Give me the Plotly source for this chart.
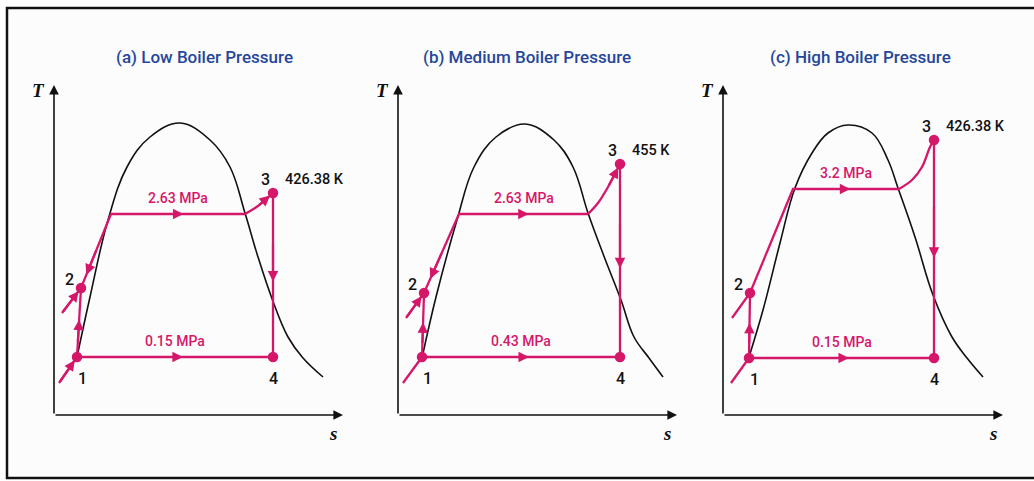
import plotly.graph_objects as go

# ---------------- data (schematic T-s values) ----------------
titles = ["(a) Low Boiler Pressure", "(b) Medium Boiler Pressure", "(c) High Boiler Pressure"]
high_p_labels = ["2.63 MPa", "2.63 MPa", "3.2 MPa"]
low_p_labels = ["0.15 MPa", "0.43 MPa", "0.15 MPa"]
t3_labels = ["426.38 K", "455 K", "426.38 K"]
state_names = ["1", "2", "3", "4"]

# saturation dome
dome_s_a = [2.3, 3.6, 5.4, 7.3, 9.6, 12.6, 15.6, 17.6, 19.1, 20.4, 21.85, 23.4, 24.9, 26.9]
dome_T_a = [5.8, 11.8, 19.5, 24.8, 27.8, 29.2, 27.5, 24.8, 20.2, 15.8, 11.5, 7.8, 5.7, 3.8]
dome_s_b = [2.4, 3.8, 5.9, 7.6, 9.8, 12.7, 15.6, 17.5, 19.0, 20.55, 22.3, 23.6, 25.1, 26.5]
dome_T_b = [5.7, 11.8, 19.5, 24.8, 27.8, 29.1, 27.5, 24.8, 20.2, 16.0, 11.5, 7.8, 5.7, 3.8]
dome_s_c = [2.6, 4.0, 5.7, 7.2, 8.9, 10.5, 12.5, 14.9, 16.5, 17.5, 19.2, 21.0, 22.9, 24.4, 26.0]
dome_T_c = [5.8, 10.5, 17.2, 22.7, 26.2, 28.2, 29.0, 28.2, 25.5, 22.7, 17.8, 12.0, 7.8, 5.7, 3.8]

# state points 1..4
s_state_a = [2.3, 2.7, 21.9, 21.9]
T_state_a = [5.8, 12.7, 22.2, 5.8]
s_state_b = [2.4, 2.6, 22.2, 22.2]
T_state_b = [5.8, 12.2, 25.1, 5.8]
s_state_c = [2.6, 2.7, 21.1, 21.1]
T_state_c = [5.7, 12.2, 27.5, 5.7]

# boiler plateau (liquid end, vapour end) and its temperature
s_sat_a = [5.7, 19.1]
T_sat_a = 20.1
s_sat_b = [6.1, 19.0]
T_sat_b = 20.1
s_sat_c = [7.0, 17.6]
T_sat_c = 22.6

# superheating curve (between plateau end and state 3)
s_sup_a = [20.4]
T_sup_a = [20.9]
s_sup_b = [20.0, 21.0]
T_sup_b = [21.2, 22.8]
s_sup_c = [18.9, 19.9, 20.7]
T_sup_c = [23.5, 24.8, 26.8]

# feed inlets (to state 1, to state 2)
s_in_a = [0.5, 0.8]
T_in_a = [3.2, 10.2]
s_in_b = [0.5, 0.8]
T_in_b = [3.2, 9.7]
s_in_c = [0.8, 0.9]
T_in_c = [3.2, 9.7]

s_axis_end = [28.9, 27.9, 28.0]
T_axis_end = [33.0, 33.0, 33.0]

# ---------------- styling ----------------
PINK = "#d5176a"
BLUE = "#25479a"
FONT = "Roboto"
W, H = 1034, 481

panels = [
    dict(dome=(dome_s_a, dome_T_a), st=(s_state_a, T_state_a), sat=(s_sat_a, T_sat_a),
         sup=(s_sup_a, T_sup_a), inl=(s_in_a, T_in_a), px=(34, 354), tcx=204.5,
         in_arrows=(True, True), feed_arrow=True),
    dict(dome=(dome_s_b, dome_T_b), st=(s_state_b, T_state_b), sat=(s_sat_b, T_sat_b),
         sup=(s_sup_b, T_sup_b), inl=(s_in_b, T_in_b), px=(378, 698), tcx=526.7,
         in_arrows=(False, True), feed_arrow=True),
    dict(dome=(dome_s_c, dome_T_c), st=(s_state_c, T_state_c), sat=(s_sat_c, T_sat_c),
         sup=(s_sup_c, T_sup_c), inl=(s_in_c, T_in_c), px=(703, 1023), tcx=860.7,
         in_arrows=(False, False), feed_arrow=False),
]

fig = go.Figure()
annotations = []

y_dom = [(H - 440) / H, (H - 70) / H]

def arrow_ann(xr, yr, x, y, ax, ay, color=PINK, width=2.2, size=0.95, standoff=0):
    return dict(xref=xr, yref=yr, axref=xr, ayref=yr, x=x, y=y, ax=ax, ay=ay,
                text="", showarrow=True, arrowhead=2, arrowsize=size,
                arrowwidth=width, arrowcolor=color, standoff=standoff)

def mid_arrow(xr, yr, p, q, f=0.5, back=0.3):
    hx = p[0] + (q[0] - p[0]) * (f + 0.04)
    hy = p[1] + (q[1] - p[1]) * (f + 0.04)
    tx = p[0] + (q[0] - p[0]) * (f - back)
    ty = p[1] + (q[1] - p[1]) * (f - back)
    return arrow_ann(xr, yr, hx, hy, tx, ty)

for i, p in enumerate(panels):
    n = "" if i == 0 else str(i + 1)
    xa, ya = "x" + n, "y" + n
    lay_x = "xaxis" + n
    lay_y = "yaxis" + n
    fig.layout[lay_x] = dict(domain=[p["px"][0] / W, p["px"][1] / W], range=[-2, 30],
                             visible=False, fixedrange=True, anchor=ya)
    fig.layout[lay_y] = dict(domain=y_dom, range=[-2.5, 34.5], visible=False,
                             fixedrange=True, anchor=xa)

    ds, dT = p["dome"]
    ss, sT = p["st"]
    sats, satT = p["sat"]
    sups, supT = p["sup"]
    ins, inT = p["inl"]

    # dome
    fig.add_trace(go.Scatter(x=ds, y=dT, mode="lines", xaxis=xa, yaxis=ya,
                             line=dict(color="#111111", width=1.6, shape="spline", smoothing=1.1),
                             hoverinfo="skip", showlegend=False))
    # cycle straight segments
    cx = [ins[0], ss[0], None, ss[0], ss[1], None, ins[1], ss[1], sats[0], sats[1], None,
          ss[2], ss[3], ss[0]]
    cy = [inT[0], sT[0], None, sT[0], sT[1], None, inT[1], sT[1], satT, satT, None,
          sT[2], sT[3], sT[0]]
    fig.add_trace(go.Scatter(x=cx, y=cy, mode="lines", xaxis=xa, yaxis=ya,
                             line=dict(color=PINK, width=2.3), hoverinfo="skip",
                             showlegend=False))
    # superheat curve
    fig.add_trace(go.Scatter(x=[sats[1]] + sups + [ss[2]], y=[satT] + supT + [sT[2]],
                             mode="lines", xaxis=xa, yaxis=ya,
                             line=dict(color=PINK, width=2.3, shape="spline"),
                             hoverinfo="skip", showlegend=False))
    # state markers
    fig.add_trace(go.Scatter(x=ss, y=sT, mode="markers", xaxis=xa, yaxis=ya,
                             marker=dict(color=PINK, size=10.5), hoverinfo="skip",
                             showlegend=False))

    # axes arrows
    annotations.append(arrow_ann(xa, ya, s_axis_end[i], 0, 0, 0, color="#111111",
                                 width=1.6, size=1.2))
    annotations.append(arrow_ann(xa, ya, 0, T_axis_end[i], 0, 0, color="#111111",
                                 width=1.6, size=1.2))
    annotations.append(dict(xref=xa, yref=ya, x=-1.6, y=32.5, text="<b><i>T</i></b>",
                            showarrow=False, font=dict(family="Liberation Serif", size=19,
                                                       color="#111111")))
    annotations.append(dict(xref=xa, yref=ya, x=s_axis_end[i] - 1.0, y=-1.8,
                            text="<b><i>s</i></b>", showarrow=False,
                            font=dict(family="Liberation Serif", size=19, color="#111111")))

    # flow arrows
    p1 = (ss[0], sT[0]); p2 = (ss[1], sT[1]); p3 = (ss[2], sT[2]); p4 = (ss[3], sT[3])
    tl = (sats[0], satT); tr = (sats[1], satT)
    annotations.append(mid_arrow(xa, ya, p1, p2))
    annotations.append(mid_arrow(xa, ya, tl, tr, back=0.15))
    annotations.append(mid_arrow(xa, ya, p3, p4, back=0.2))
    annotations.append(mid_arrow(xa, ya, p1, p4, back=0.15))
    if p["feed_arrow"]:
        annotations.append(mid_arrow(xa, ya, tl, p2, f=0.78, back=0.3))
    if p["in_arrows"][0]:
        annotations.append(arrow_ann(xa, ya, p1[0], p1[1], ins[0], inT[0], standoff=4))
    if p["in_arrows"][1]:
        annotations.append(arrow_ann(xa, ya, p2[0], p2[1], ins[1], inT[1], standoff=4))
    annotations.append(arrow_ann(xa, ya, p3[0], p3[1], sups[-1], supT[-1], standoff=4))

    # labels
    lab_font = dict(family=FONT, size=16, color="#111111", weight=500)
    annotations.append(dict(xref=xa, yref=ya, x=p1[0], y=p1[1], text=state_names[0],
                            showarrow=False, xshift=5, yshift=-21, font=lab_font))
    annotations.append(dict(xref=xa, yref=ya, x=p2[0], y=p2[1], text=state_names[1],
                            showarrow=False, xshift=-12, yshift=9, font=lab_font))
    annotations.append(dict(xref=xa, yref=ya, x=p3[0], y=p3[1], text=state_names[2],
                            showarrow=False, xshift=-8, yshift=14, font=lab_font))
    annotations.append(dict(xref=xa, yref=ya, x=p4[0], y=p4[1], text=state_names[3],
                            showarrow=False, xshift=0, yshift=-21, font=lab_font))
    annotations.append(dict(xref=xa, yref=ya, x=p3[0], y=p3[1], text=t3_labels[i],
                            showarrow=False, xanchor="left", xshift=10, yshift=14,
                            font=dict(family=FONT, size=14.5, color="#111111", weight=500)))
    pfont = dict(family=FONT, size=14, color=PINK, weight=500)
    annotations.append(dict(xref=xa, yref=ya, x=(tl[0] + tr[0]) / 2, y=satT,
                            text=high_p_labels[i], showarrow=False, yshift=16, font=pfont))
    annotations.append(dict(xref=xa, yref=ya, x=(p1[0] + p4[0]) / 2, y=p1[1],
                            text=low_p_labels[i], showarrow=False, yshift=16, font=pfont))
    # title
    annotations.append(dict(xref="paper", yref="paper", x=p["tcx"] / W, y=1 - 57 / H,
                            text=titles[i], showarrow=False, xanchor="center",
                            yanchor="middle",
                            font=dict(family=FONT, size=17, color=BLUE, weight=500)))

fig.update_layout(
    width=W, height=H, margin=dict(l=0, r=0, t=0, b=0),
    paper_bgcolor="white", plot_bgcolor="rgba(0,0,0,0)",
    annotations=annotations, showlegend=False,
    shapes=[dict(type="rect", xref="paper", yref="paper", x0=7 / W, x1=1.02,
                 y0=1 - 478 / H, y1=1 - 8 / H, line=dict(color="#111111", width=2.5),
                 fillcolor="#fcfcfc", layer="below")],
)

fig.write_html("out.html", config={"displayModeBar": False})
